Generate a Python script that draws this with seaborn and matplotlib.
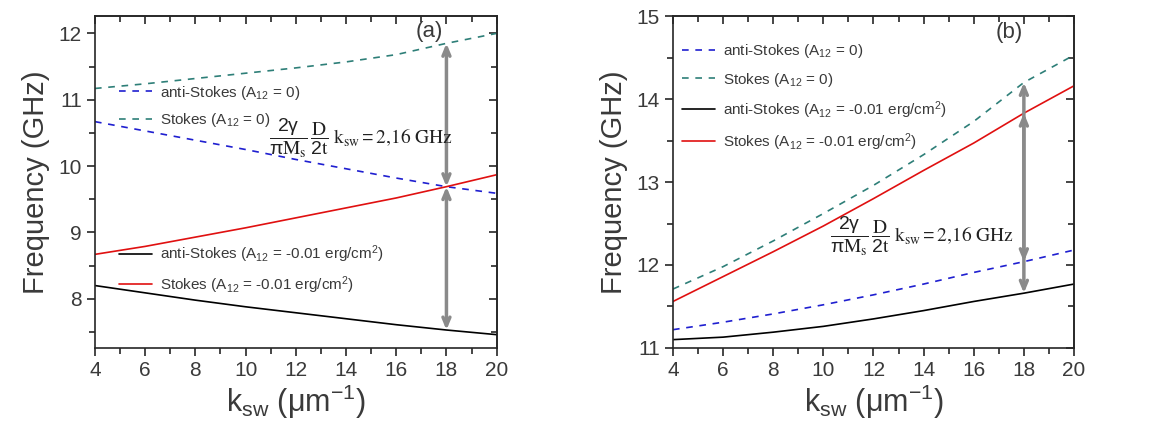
import numpy as np
import pandas as pd
import matplotlib
matplotlib.use("Agg")
import matplotlib.pyplot as plt
from matplotlib.ticker import MultipleLocator
import seaborn as sns

# wavevector (um^-1)
k_sw = [4, 6, 8, 10, 12, 14, 16, 18, 20]

# panel (a) frequencies (GHz)
a_anti0 = [10.67, 10.53, 10.39, 10.25, 10.10, 9.96, 9.82, 9.69, 9.59]
a_stokes0 = [11.17, 11.24, 11.32, 11.40, 11.48, 11.57, 11.68, 11.85, 12.00]
a_anti1 = [8.20, 8.09, 7.98, 7.88, 7.79, 7.70, 7.61, 7.53, 7.46]
a_stokes1 = [8.67, 8.79, 8.93, 9.07, 9.22, 9.37, 9.52, 9.69, 9.87]

# panel (b) frequencies (GHz)
b_anti0 = [11.22, 11.31, 11.41, 11.52, 11.64, 11.77, 11.91, 12.04, 12.18]
b_stokes0 = [11.71, 11.98, 12.29, 12.62, 12.96, 13.33, 13.73, 14.20, 14.53]
b_anti1 = [11.10, 11.13, 11.19, 11.26, 11.35, 11.45, 11.56, 11.66, 11.77]
b_stokes1 = [11.56, 11.86, 12.16, 12.47, 12.80, 13.14, 13.47, 13.83, 14.16]

labels = ["anti-Stokes (A$_{12}$ = 0)",
          "Stokes (A$_{12}$ = 0)",
          "anti-Stokes (A$_{12}$ = -0.01 erg/cm$^{2}$)",
          "Stokes (A$_{12}$ = -0.01 erg/cm$^{2}$)"]
formula = r"$\dfrac{2\gamma}{\pi \mathrm{M}_\mathrm{s}}\,\dfrac{\mathrm{D}}{2\mathrm{t}}\;\mathrm{k}_{\mathrm{sw}} = \mathrm{2{,}16\ GHz}$"

sns.set_style("ticks")
plt.rcParams["font.family"] = ["Liberation Sans", "DejaVu Sans"]
plt.rcParams["mathtext.fontset"] = "stix"
plt.rcParams["mathtext.default"] = "regular"
plt.rcParams["axes.linewidth"] = 1.2

styles = [("#1f1fd0", (0, (4, 4))), ("#2e7f78", (0, (4, 4))),
          ("black", "-"), ("#e01010", "-")]
txt = "#3a3a3a"


def make_panel(ax, series, ylim, yticks):
    for vals, lab, (c, ls) in zip(series, labels, styles):
        df = pd.DataFrame({"k": k_sw, "f": vals})
        sns.lineplot(data=df, x="k", y="f", ax=ax, color=c, linestyle=ls,
                     lw=1.2, label=lab, errorbar=None, legend=False)
    ax.set_xlim(4, 20)
    ax.set_ylim(*ylim)
    ax.set_yticks(yticks)
    ax.xaxis.set_major_locator(MultipleLocator(2))
    ax.xaxis.set_minor_locator(MultipleLocator(1))
    ax.yaxis.set_minor_locator(MultipleLocator(0.5))
    ax.tick_params(which="both", direction="out", labelsize=15, labelcolor=txt,
                   width=1.2, top=False, right=False)
    ax.tick_params(which="major", length=6)
    ax.tick_params(which="minor", length=4)
    for side, f in (("top", ax.secondary_xaxis), ("right", ax.secondary_yaxis)):
        sec = f(side)
        sec.tick_params(which="both", direction="in", width=1.2,
                        labeltop=False, labelright=False)
        sec.tick_params(which="major", length=6)
        sec.tick_params(which="minor", length=4)
        if side == "top":
            sec.xaxis.set_major_locator(MultipleLocator(2))
            sec.xaxis.set_minor_locator(MultipleLocator(1))
        else:
            sec.set_yticks(yticks)
            sec.yaxis.set_minor_locator(MultipleLocator(0.5))
    ax.set_xlabel("k$_{sw}$ (μm$^{-1}$)", fontsize=22, color=txt, labelpad=2)
    ax.set_ylabel("Frequency (GHz)", fontsize=21, color=txt, labelpad=6)
    return ax.get_lines()[:4]


fig = plt.figure(figsize=(11.51, 4.36), dpi=100)
ax1 = fig.add_axes([0.0825, 0.202, 0.349, 0.761])
ax2 = fig.add_axes([0.5847, 0.202, 0.3484, 0.761])

arrow = dict(arrowstyle="<->,head_length=0.6,head_width=0.25", color="#8a8a8a",
             lw=2.5, shrinkA=0, shrinkB=0)
leg_kw = dict(frameon=False, fontsize=11, handlelength=2.2, handletextpad=0.5,
              labelcolor=txt, borderaxespad=0, borderpad=0)

# (a)
h = make_panel(ax1, [a_anti0, a_stokes0, a_anti1, a_stokes1], (7.26, 12.26), [8, 9, 10, 11, 12])
ax1.annotate("", xy=(18, a_anti0[7]), xytext=(18, a_stokes0[7]), arrowprops=arrow)
ax1.annotate("", xy=(18, a_anti1[7]), xytext=(18, a_stokes1[7]), arrowprops=arrow)
leg1 = ax1.legend(handles=h[:2], labels=labels[:2], loc="center left",
                  bbox_to_anchor=(4.95, 10.9), bbox_transform=ax1.transData,
                  labelspacing=0.6, **leg_kw)
ax1.add_artist(leg1)
ax1.legend(handles=h[2:], labels=labels[2:], loc="center left",
           bbox_to_anchor=(4.95, 8.44), bbox_transform=ax1.transData,
           labelspacing=0.6, **leg_kw)
ax1.text(17.3, 12.03, "(a)", fontsize=16, color=txt, ha="center", va="center")
ax1.text(14.6, 10.42, formula, fontsize=14, color="#222222", ha="center", va="center")

# (b)
h = make_panel(ax2, [b_anti0, b_stokes0, b_anti1, b_stokes1], (11, 15), [11, 12, 13, 14, 15])
ax2.annotate("", xy=(18, b_anti0[7]), xytext=(18, b_stokes0[7]), arrowprops=arrow)
ax2.annotate("", xy=(18, b_anti1[7]), xytext=(18, b_stokes1[7]), arrowprops=arrow)
ax2.legend(handles=h, labels=labels, loc="center left",
           bbox_to_anchor=(4.35, 14.02), bbox_transform=ax2.transData,
           labelspacing=0.68, **leg_kw)
ax2.text(17.4, 14.8, "(b)", fontsize=16, color=txt, ha="center", va="center")
ax2.text(13.95, 12.34, formula, fontsize=14, color="#222222", ha="center", va="center")

fig.savefig("out.png", dpi=100)
